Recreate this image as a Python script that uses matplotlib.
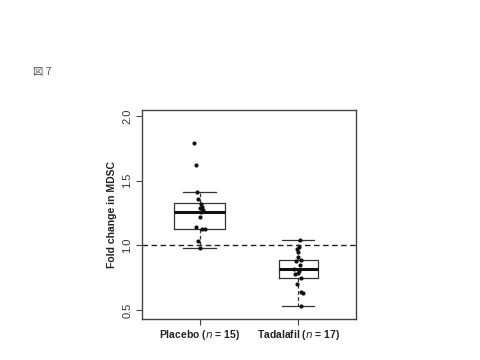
import matplotlib
matplotlib.use("Agg")
import matplotlib.pyplot as plt
from matplotlib import font_manager as fm
import numpy as np

# pick regular (non-narrow) Liberation Sans files
def find_font(style, weight):
    for f in fm.fontManager.ttflist:
        if f.name == "Liberation Sans" and "Narrow" not in f.fname and f.style == style and f.weight == weight:
            return f.fname
    return None

bold_path = find_font("normal", 700)
bolditalic_path = find_font("italic", 700)
reg_path = find_font("normal", 400)
fp_bold = fm.FontProperties(fname=bold_path) if bold_path else fm.FontProperties(family="DejaVu Sans", weight="bold")
fp_reg = fm.FontProperties(fname=reg_path) if reg_path else fm.FontProperties(family="DejaVu Sans")

plt.rcParams['font.family'] = ['Liberation Sans', 'Noto Sans CJK JP', 'DejaVu Sans']
plt.rcParams['mathtext.fontset'] = 'custom'
plt.rcParams['mathtext.it'] = 'Liberation Sans:italic:bold'
plt.rcParams['mathtext.rm'] = 'Liberation Sans:bold'
plt.rcParams['mathtext.bf'] = 'Liberation Sans:bold'

groups = ["Placebo (", "Tadalafil ("]
group_n = ["15", "17"]
placebo = [1.79, 1.62, 1.415, 1.355, 1.32, 1.30, 1.29, 1.27, 1.26, 1.22, 1.14, 1.13, 1.13, 1.03, 0.98]
placebo_jit = [-0.06, -0.04, -0.03, -0.02, 0.01, 0.02, 0.00, 0.03, 0.01, 0.00, -0.04, 0.02, 0.05, -0.02, 0.00]
tadalafil = [1.04, 0.99, 0.97, 0.95, 0.91, 0.89, 0.88, 0.85, 0.82, 0.80, 0.79, 0.78, 0.75, 0.70, 0.64, 0.63, 0.53]
tadalafil_jit = [0.02, 0.01, -0.01, 0.00, 0.00, 0.03, -0.02, 0.02, -0.04, 0.01, 0.00, -0.03, 0.03, -0.01, 0.03, 0.05, 0.03]
# box stats: (lower whisker, Q1, median, Q3, upper whisker)
box_stats = [(0.977, 1.13, 1.258, 1.325, 1.415), (0.53, 0.745, 0.815, 0.89, 1.04)]
box_widths = [0.52, 0.40]
yticks = [0.5, 1.0, 1.5, 2.0]

fig = plt.figure(figsize=(4.8, 3.6), dpi=100)
fig.text(33/480, 1-72/360, "図 7", fontsize=7.5, color="#555555", va="center", ha="left",
         family=["Noto Sans CJK JP", "DejaVu Sans"])

ax = fig.add_axes([142/480, 1-318.7/360, (356-142)/480, (318.7-110)/360])
stats = []
for (wl, q1, med, q3, wh) in box_stats:
    stats.append(dict(whislo=wl, q1=q1, med=med, q3=q3, whishi=wh, fliers=[]))
lw = 0.9
ax.bxp(stats, positions=[1, 2], widths=box_widths, showfliers=False,
       boxprops=dict(color="#333333", lw=lw),
       medianprops=dict(color="#111111", lw=2.2),
       whiskerprops=dict(color="#333333", lw=lw, ls=(0, (3, 2))),
       capprops=dict(color="#333333", lw=lw), capwidths=[0.34, 0.32])

ax.scatter(1 + np.array(placebo_jit), placebo, s=9, color="#111111", zorder=5, lw=0)
ax.scatter(2 + np.array(tadalafil_jit), tadalafil, s=9, color="#111111", zorder=5, lw=0)
ax.axhline(1.0, color="#222222", lw=1.0, ls=(0, (4, 2.5)), zorder=1)

ax.set_xlim(0.414, 2.586)
ax.set_ylim(0.433, 2.046)
ax.set_yticks(yticks)
fp_tick = fp_reg.copy(); fp_tick.set_size(8)
ax.set_yticklabels([f"{v:.1f}" for v in yticks], rotation=90, va="center", fontproperties=fp_tick, color="#333333")
ax.set_xticks([1, 2])
fp_x = fp_bold.copy(); fp_x.set_size(7.5)
ax.set_xticklabels([f"{g}$n$ = {n})" for g, n in zip(groups, group_n)], fontproperties=fp_x, color="#222222")
ax.tick_params(axis='both', length=4, width=0.8, color="#444444", pad=3)
for s in ax.spines.values():
    s.set_linewidth(1.0)
    s.set_color("#444444")
fp_y = fp_bold.copy(); fp_y.set_size(7.5)
ax.set_ylabel("Fold change in MDSC", fontproperties=fp_y, color="#222222", labelpad=4)

fig.savefig("out.png", dpi=100)
